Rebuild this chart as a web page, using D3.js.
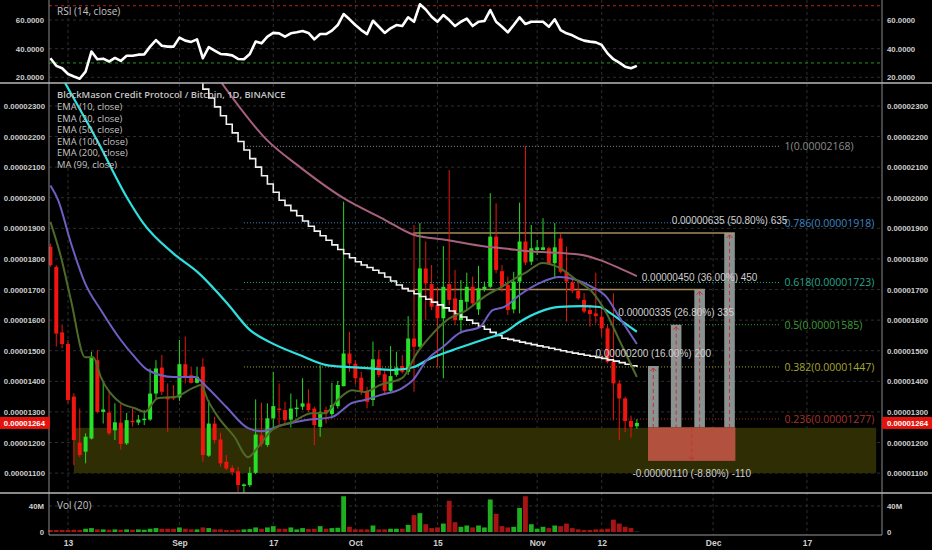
<!DOCTYPE html>
<html>
<head>
<meta charset="utf-8">
<script src="https://cdn.jsdelivr.net/npm/d3@7"></script>
<style>
  body { margin: 0; background: #000; }
  svg { display: block; }
</style>
</head>
<body>
<svg id="chart" width="932" height="550"></svg>
<script>
// daily candles, prices in satoshi (1e-8 BTC), day 0 = 2018-08-10
const opens  = [1840,1774,1560,1522,1350,1200,1170,1213,1469,1300,1298,1240,1265,1197,1271,1265,1273,1275,1360,1445,1350,1352,1347,1456,1420,1395,1448,1157,1262,1210,1137,1117,1106,1058,1061,1101,1224,1192,1279,1311,1306,1275,1309,1317,1328,1311,1251,1306,1293,1319,1384,1491,1458,1412,1369,1339,1472,1423,1369,1421,1450,1431,1540,1513,1769,1718,1649,1606,1718,1671,1600,1660,1709,1635,1701,1709,1873,1760,1715,1635,1726,1857,1791,1829,1829,1835,1786,1867,1758,1723,1696,1666,1633,1622,1611,1573,1464,1393,1344,1271,1253];
const highs  = [1850,1780,1586,1535,1361,1311,1230,1497,1502,1399,1366,1328,1328,1297,1312,1290,1306,1442,1469,1486,1393,1388,1535,1546,1448,1448,1475,1339,1284,1232,1159,1126,1120,1066,1120,1341,1330,1328,1431,1393,1333,1360,1341,1410,1374,1317,1453,1317,1395,1401,1987,1562,1469,1431,1382,1530,1502,1437,1515,1497,1486,1613,1911,1917,1857,1780,1709,1842,2091,1764,1731,1755,1742,1777,1726,2015,1982,1780,1742,1758,1984,2169,1911,1862,1933,1840,1917,1882,1840,1731,1726,1688,1649,1755,1649,1584,1688,1404,1350,1288,1276];
const lows   = [1775,1513,1508,1328,1126,1153,1132,1210,1295,1262,1224,1208,1177,1192,1252,1257,1257,1271,1344,1355,1235,1339,1336,1393,1393,1393,1137,1153,1197,1121,1110,1093,1039,1033,1055,1097,1186,1186,1249,1257,1262,1249,1284,1306,1300,1191,1219,1262,1279,1311,1384,1431,1391,1355,1312,1319,1413,1361,1361,1415,1426,1421,1366,1508,1600,1633,1448,1410,1649,1584,1557,1633,1644,1617,1693,1704,1753,1693,1617,1622,1622,1780,1780,1813,1829,1780,1737,1753,1595,1688,1666,1622,1579,1590,1546,1459,1273,1208,1234,1216,1245];
const closes = [1780,1556,1522,1339,1208,1159,1219,1480,1300,1308,1230,1266,1195,1273,1266,1275,1278,1360,1442,1366,1341,1344,1456,1415,1395,1415,1159,1262,1208,1132,1115,1104,1061,1063,1101,1226,1195,1279,1319,1306,1273,1311,1314,1328,1306,1257,1300,1295,1322,1388,1491,1458,1410,1366,1333,1472,1421,1369,1417,1445,1431,1540,1513,1769,1720,1644,1606,1709,1666,1600,1666,1709,1655,1704,1709,1873,1764,1709,1633,1726,1857,1788,1835,1838,1838,1786,1838,1758,1726,1696,1671,1628,1620,1613,1573,1464,1393,1344,1270,1250,1264];

// volume, millions
const volumes = [3,3,3,3,3.5,3,5,6,4,4,3.5,4,3.5,4,3.5,4,3.5,5,6,5,5,5,7,5,4,4,7,6,4,4,3,3,3.5,4,4.5,7,5,7,9,5,5,7,4,6,4.5,5,9,5,6,6.5,55,8,4,4,4,10,4,4,5,5,5,11,26,29,12,6,7,13,48,15,8,10,7,10,7,50,28,9,7,8,37,55,12,5,8,6,10,9,13,6,4,3,3,4,4,5,19,13,8,6,0.5];

// RSI (14, close)
const rsi = [33.3,28,26.3,22.3,20.5,19,24,38,32.6,33,31,33.5,31.4,35,35,35.8,36,41.4,46,42,41.4,41.4,47.7,45.6,44.7,46.5,33.3,41,38.6,36.3,36,35.3,32.8,32.6,36.3,45,43.7,48.4,51,50.7,48.4,50.7,51.4,52.3,51,46.5,50.2,50.2,52.6,56.5,64.2,60.5,56.5,53,50.2,59.5,55.3,51,54.2,56.5,55.8,61.9,58.8,71,67.4,62.3,58.8,63.5,60,55.8,58.8,61,55.8,58.8,59.3,67,58.8,55.3,51.4,56.5,61.9,57.2,58.8,58.8,58.8,55.3,60.5,53,50.7,49.3,47.2,45.6,44.9,44.4,42.6,36.7,32.6,30.2,27.4,26.3,28];

// moving averages: [day, price]
const ema10 = [[0,1921],[1.8,1806],[3.5,1666],[5.9,1479],[7.3,1479],[8.6,1414],[12,1329],[14.4,1312],[16.1,1300],[18.3,1345],[21.2,1349],[24.6,1381],[25.7,1388],[26.8,1340],[28.6,1283],[31.4,1218],[33.7,1152],[35.4,1185],[37.8,1241],[41.2,1267],[44.6,1296],[46.8,1296],[49,1339],[51.4,1371],[53.6,1365],[56.2,1388],[60,1411],[62.5,1492],[64.7,1545],[67.6,1600],[71,1633],[74.4,1682],[76.6,1705],[78.8,1731],[81.2,1757],[83.9,1787],[86.5,1774],[89.7,1731],[92.4,1692],[94.8,1623],[97,1535],[100,1414]];
const ema20 = [[0,2040],[1.3,1993],[3.5,1852],[5.9,1721],[8.6,1633],[12,1535],[14.4,1479],[16.6,1437],[21,1414],[24.6,1414],[26.7,1381],[30,1316],[33.7,1247],[36,1237],[39.5,1257],[43.4,1273],[48,1283],[51.4,1329],[53.6,1339],[56.2,1355],[60,1378],[61.8,1404],[64.2,1470],[66.9,1512],[69.8,1558],[73.2,1577],[75.4,1633],[77.4,1643],[80,1682],[83.4,1721],[86.8,1741],[89.7,1731],[92.4,1708],[94.8,1676],[97,1610],[100,1522]];
const ema50 = [[2.5,2375],[8,2186],[13.2,1996],[15.8,1918],[20.9,1819],[25.1,1757],[30.1,1656],[34,1568],[37.4,1528],[42.5,1486],[47.1,1453],[50.5,1447],[53.9,1443],[58.4,1437],[62,1447],[64.5,1472],[68.6,1502],[71,1518],[74.4,1540],[77.5,1561],[80,1594],[83.4,1627],[86.8,1643],[90.7,1646],[93.6,1643],[95.5,1623],[97.6,1594],[100,1562]];
const ema100 = [[29.2,2375],[36.9,2189],[42.5,2101],[50.5,1993],[52.7,1970],[57,1928],[61.8,1880],[67.6,1862],[74.4,1840],[77.5,1834],[82.2,1824],[86.8,1820],[90.7,1813],[93.6,1797],[97,1770],[100,1744]];
// MA (99) daily from day 25
const ma99Start = 25;
const ma99 = [2385,2355,2326,2297,2268,2240,2212,2184,2156,2128,2100,2072,2045,2018,1992,1975,1958,1941,1924,1907,1891,1876,1861,1846,1831,1817,1804,1791,1780,1772,1763,1754,1741,1728,1715,1703,1695,1686,1677,1668,1659,1650,1640,1630,1620,1610,1600,1590,1580,1570,1560,1550,1541,1537,1533,1528,1524,1520,1516,1512,1508,1504,1500,1496,1492,1489,1485,1482,1478,1475,1470,1466,1461,1456,1451,1447];

// fibonacci retracement
const fibLevels = [1, 0.786, 0.618, 0.5, 0.382, 0.236];
const fibPrices = [2168, 1918, 1723, 1585, 1447, 1277];
const fibDays = [33, 124.5];

// support zone
const zoneDays = [4, 140.8];
const zonePrices = [1100, 1248];

// long position targets
const entryPrice = 1250;
const targetDiffs = [200, 335, 450, 635];
const targetDays = [102.8, 106.7, 110.7, 115.8];
const stopDiff = 110;
const stopDays = [101.9, 116.8];
const lastPrice = 1264;

const priceTicks = [1100,1200,1300,1400,1500,1600,1700,1800,1900,2000,2100,2200,2300];
const rsiTicks = [20, 40, 60];
const volTicks = [0, 40];
const dateTicks = ["2018-08-13","2018-09-01","2018-09-17","2018-10-01","2018-10-15","2018-11-01","2018-11-12","2018-12-01","2018-12-17"];

const svg = d3.select("#chart");
const L = 49, R = 882;
const DAY = 864e5;
const day0 = Date.UTC(2018, 7, 10);

const x = d3.scaleUtc()
  .domain([new Date(day0 - 0.24 * DAY), new Date(day0 + 141.8 * DAY)])
  .range([L, R]);
const dx = d => x(new Date(day0 + d * DAY));
const yR = d3.scaleLinear().domain([16, 74]).range([83, 0]);
const yP = d3.scaleLinear().domain([1035, 2375]).range([493, 83]);
const yV = d3.scaleLinear().domain([0, 60]).range([532, 493]);
const fmtP = p => (p / 1e8).toFixed(8);

svg.append("rect").attr("width", 932).attr("height", 550).attr("fill", "#000");

const defs = svg.append("defs");
defs.append("clipPath").attr("id", "clipP").append("rect")
  .attr("x", L).attr("y", 83).attr("width", R - L).attr("height", 410);
defs.append("clipPath").attr("id", "clipR").append("rect")
  .attr("x", L).attr("y", 0).attr("width", R - L).attr("height", 83);

// grid
const grid = svg.append("g").attr("stroke", "#2e2e2e").attr("stroke-dasharray", "3,3");
const dates = dateTicks.map(s => new Date(s + "T00:00:00Z"));
grid.selectAll(".gv").data(dates).enter().append("line")
  .attr("x1", d => x(d)).attr("x2", d => x(d)).attr("y1", 0).attr("y2", 535);
grid.selectAll(".gp").data(priceTicks).enter().append("line")
  .attr("x1", L).attr("x2", R).attr("y1", d => yP(d)).attr("y2", d => yP(d));
grid.selectAll(".gr").data(rsiTicks).enter().append("line")
  .attr("x1", L).attr("x2", R).attr("y1", d => yR(d)).attr("y2", d => yR(d));
grid.append("line").attr("x1", L).attr("x2", R).attr("y1", yV(40)).attr("y2", yV(40));

// ---- RSI pane
const rsiG = svg.append("g").attr("clip-path", "url(#clipR)");
rsiG.append("line").attr("x1", L).attr("x2", R).attr("y1", yR(70)).attr("y2", yR(70))
  .attr("stroke", "#b22222").attr("stroke-dasharray", "3,3");
rsiG.append("line").attr("x1", L).attr("x2", R).attr("y1", yR(30)).attr("y2", yR(30))
  .attr("stroke", "#1e9a1e").attr("stroke-dasharray", "3,3");
rsiG.append("path").datum(rsi)
  .attr("fill", "none").attr("stroke", "#fff").attr("stroke-width", 2.6)
  .attr("stroke-linejoin", "round")
  .attr("d", d3.line().x((d, i) => dx(i)).y(d => yR(d)));

// ---- price pane
const pG = svg.append("g").attr("clip-path", "url(#clipP)");

pG.append("rect")
  .attr("x", dx(zoneDays[0])).attr("width", dx(zoneDays[1]) - dx(zoneDays[0]))
  .attr("y", yP(zonePrices[1])).attr("height", yP(zonePrices[0]) - yP(zonePrices[1]))
  .attr("fill", "#2f2d04");

// fib lines
const fibColors = ["#8a8a8a", "#3f86c0", "#2aa58c", "#3f9e3a", "#a6a630", "#a8322b"];
fibPrices.forEach((p, i) => {
  pG.append("line").attr("x1", dx(fibDays[0])).attr("x2", dx(fibDays[1]))
    .attr("y1", yP(p)).attr("y2", yP(p))
    .attr("stroke", fibColors[i]).attr("stroke-dasharray", "1,2").attr("stroke-width", 1);
});

// target lines from the old highs
pG.append("line").attr("x1", dx(61.8)).attr("x2", dx(targetDays[3]) + 5.3)
  .attr("y1", yP(entryPrice + targetDiffs[3])).attr("y2", yP(entryPrice + targetDiffs[3]))
  .attr("stroke", "#a88a5c").attr("stroke-width", 1.5);
pG.append("line").attr("x1", dx(61.8)).attr("x2", dx(targetDays[2]) + 5.3)
  .attr("y1", yP(entryPrice + targetDiffs[2])).attr("y2", yP(entryPrice + targetDiffs[2]))
  .attr("stroke", "#a88a5c").attr("stroke-width", 1.5);

// stop box
const sx0 = dx(stopDays[0]), sx1 = dx(stopDays[1]);
pG.append("rect").attr("x", sx0).attr("width", sx1 - sx0)
  .attr("y", yP(entryPrice)).attr("height", yP(entryPrice - stopDiff) - yP(entryPrice))
  .attr("fill", "rgba(200,88,72,0.86)");
const smid = (sx0 + sx1) / 2;
pG.append("line").attr("x1", smid).attr("x2", smid)
  .attr("y1", yP(entryPrice)).attr("y2", yP(entryPrice - stopDiff))
  .attr("stroke", "#c83030").attr("stroke-dasharray", "4,3");
pG.append("path")
  .attr("d", `M${smid - 3},${yP(entryPrice - stopDiff) - 4}L${smid},${yP(entryPrice - stopDiff) - 1}L${smid + 3},${yP(entryPrice - stopDiff) - 4}`)
  .attr("fill", "none").attr("stroke", "#c83030");

// target bars
targetDiffs.forEach((t, i) => {
  const cx = dx(targetDays[i]);
  const yt = yP(entryPrice + t), yb = yP(entryPrice);
  pG.append("rect").attr("x", cx - 5.3).attr("width", 10.6)
    .attr("y", yt).attr("height", yb - yt).attr("fill", "rgba(150,158,158,0.92)");
  pG.append("line").attr("x1", cx).attr("x2", cx).attr("y1", yt + 2).attr("y2", yb)
    .attr("stroke", "#c83030").attr("stroke-dasharray", "4,3");
  pG.append("path").attr("d", `M${cx - 3},${yt + 5}L${cx},${yt + 2}L${cx + 3},${yt + 5}`)
    .attr("fill", "none").attr("stroke", "#c83030");
});

// candles
const candles = d3.range(opens.length).map(i => ({
  d: i, o: opens[i], h: highs[i], l: lows[i], c: closes[i], up: closes[i] >= opens[i]
}));
const cg = pG.selectAll(".candle").data(candles).enter().append("g");
cg.append("line")
  .attr("x1", d => dx(d.d)).attr("x2", d => dx(d.d))
  .attr("y1", d => yP(d.h)).attr("y2", d => yP(d.l))
  .attr("stroke", d => d.up ? "#29d629" : "#e8150f").attr("stroke-width", 1);
cg.append("rect")
  .attr("x", d => dx(d.d) - 2).attr("width", 4)
  .attr("y", d => yP(Math.max(d.o, d.c)))
  .attr("height", d => Math.max(1.5, Math.abs(yP(d.o) - yP(d.c))))
  .attr("fill", d => d.up ? "#29e029" : "#f0150f");

// moving averages
const ln = d3.line().x(d => dx(d[0])).y(d => yP(d[1])).curve(d3.curveMonotoneX);
pG.append("path").datum(ema100).attr("d", ln)
  .attr("fill", "none").attr("stroke", "#a8607e").attr("stroke-width", 2);
pG.append("path").datum(ma99.map((v, i) => [ma99Start + i, v]))
  .attr("d", d3.line().x(d => dx(d[0])).y(d => yP(d[1])).curve(d3.curveStepAfter))
  .attr("fill", "none").attr("stroke", "#f2f2f2").attr("stroke-width", 1.6);
pG.append("path").datum(ema50).attr("d", ln)
  .attr("fill", "none").attr("stroke", "#2fe0e0").attr("stroke-width", 2.2);
pG.append("path").datum(ema20).attr("d", ln)
  .attr("fill", "none").attr("stroke", "#6f5fc2").attr("stroke-width", 2);
pG.append("path").datum(ema10).attr("d", ln)
  .attr("fill", "none").attr("stroke", "#4e6a2a").attr("stroke-width", 2);

// fib labels
const fibText = svg.append("g").attr("font-family", "Open Sans, sans-serif").attr("font-size", 10.5);
fibPrices.forEach((p, i) => {
  fibText.append("text").attr("x", dx(fibDays[1]) + 4).attr("y", yP(p) + 4)
    .attr("fill", fibColors[i] === "#8a8a8a" ? "#8c8c8c" : fibColors[i])
    .text(`${fibLevels[i]}(${fmtP(p)})`);
});

// position labels
const posText = svg.append("g").attr("font-family", "Liberation Sans, Arial, sans-serif")
  .attr("font-size", 10).attr("fill", "#cfcfcf").attr("text-anchor", "middle");
targetDiffs.forEach((t, i) => {
  posText.append("text").attr("x", dx(targetDays[i])).attr("y", yP(entryPrice + t) - 9)
    .text(`${fmtP(t)} (${(t / entryPrice * 100).toFixed(2)}%) ${t}`);
});
posText.append("text").attr("x", smid).attr("y", yP(entryPrice - stopDiff) + 16)
  .text(`-${fmtP(stopDiff)} (-${(stopDiff / entryPrice * 100).toFixed(2)}%) -${stopDiff}`);

// ---- volume pane
svg.append("g").selectAll("rect").data(volumes).enter().append("rect")
  .attr("x", (d, i) => dx(i) - 2.4).attr("width", 4.8)
  .attr("y", d => yV(d)).attr("height", d => yV(0) - yV(d))
  .attr("fill", (d, i) => closes[i] >= opens[i] ? "#1fae1f" : "#a81414");

// ---- frame lines
const frame = svg.append("g");
frame.append("line").attr("x1", L).attr("x2", L).attr("y1", 0).attr("y2", 535).attr("stroke", "#8a8a8a");
frame.append("line").attr("x1", R).attr("x2", R).attr("y1", 0).attr("y2", 535).attr("stroke", "#8a8a8a");
frame.append("line").attr("x1", 0).attr("x2", 932).attr("y1", 83).attr("y2", 83).attr("stroke", "#b8b8b8").attr("stroke-width", 1.5);
frame.append("line").attr("x1", 0).attr("x2", 932).attr("y1", 493).attr("y2", 493).attr("stroke", "#b8b8b8").attr("stroke-width", 1.5);
frame.append("line").attr("x1", L).attr("x2", R).attr("y1", 535).attr("y2", 535).attr("stroke", "#9a9a9a");

// ---- axes
function styleAxis(g) {
  g.select(".domain").remove();
  g.selectAll("text").attr("fill", "#cfcfcf")
    .attr("font-family", "Liberation Sans, Arial, sans-serif")
    .attr("font-size", 7.8).attr("font-weight", "bold");
}
svg.append("g").attr("transform", `translate(${L},0)`)
  .call(d3.axisLeft(yP).tickValues(priceTicks).tickFormat(fmtP).tickSize(0).tickPadding(4)).call(styleAxis);
svg.append("g").attr("transform", `translate(${R},0)`)
  .call(d3.axisRight(yP).tickValues(priceTicks).tickFormat(fmtP).tickSize(0).tickPadding(5)).call(styleAxis);
svg.append("g").attr("transform", `translate(${L},0)`)
  .call(d3.axisLeft(yR).tickValues(rsiTicks).tickFormat(d => d.toFixed(4)).tickSize(0).tickPadding(5)).call(styleAxis);
svg.append("g").attr("transform", `translate(${R},0)`)
  .call(d3.axisRight(yR).tickValues(rsiTicks).tickFormat(d => d.toFixed(4)).tickSize(0).tickPadding(5)).call(styleAxis);
svg.append("g").attr("transform", `translate(${L},0)`)
  .call(d3.axisLeft(yV).tickValues(volTicks).tickFormat(d => d ? d + "M" : "0").tickSize(0).tickPadding(5)).call(styleAxis);
svg.append("g").attr("transform", `translate(${R},0)`)
  .call(d3.axisRight(yV).tickValues(volTicks).tickFormat(d => d ? d + "M" : "0").tickSize(0).tickPadding(5)).call(styleAxis);
svg.append("g").attr("transform", "translate(0,535)")
  .call(d3.axisBottom(x).tickValues(dates)
    .tickFormat(d => d.getUTCDate() === 1 ? d3.utcFormat("%b")(d) : d3.utcFormat("%-d")(d))
    .tickSize(0).tickPadding(5))
  .call(styleAxis)
  .selectAll("text").attr("font-size", 8.5);

// last price tags
const lp = yP(lastPrice);
[[0, L - 4, "end"], [R, R + 5, "start"]].forEach(([rx, tx, anchor]) => {
  svg.append("rect").attr("x", rx).attr("y", lp - 6).attr("width", 50).attr("height", 12).attr("fill", "#e3140e");
  svg.append("text").attr("x", tx).attr("y", lp + 3).attr("text-anchor", anchor)
    .attr("fill", "#fff").attr("font-family", "Liberation Sans, Arial, sans-serif")
    .attr("font-size", 7.8).attr("font-weight", "bold").text(fmtP(lastPrice));
});

// ---- legends
const lg = svg.append("g").attr("font-family", "Open Sans, sans-serif").attr("fill", "#c4c4c4").attr("font-size", 9.4);
lg.append("text").attr("x", 57).attr("y", 15).attr("font-size", 10).text("RSI (14, close)");
lg.append("text").attr("x", 57).attr("y", 98).attr("font-weight", 600)
  .text("BlockMason Credit Protocol / Bitcoin, 1D, BINANCE");
["EMA (10, close)", "EMA (20, close)", "EMA (50, close)", "EMA (100, close)", "EMA (200, close)", "MA (99, close)"]
  .forEach((t, i) => lg.append("text").attr("x", 57).attr("y", 110 + i * 11.6).text(t));
lg.append("text").attr("x", 57).attr("y", 509).attr("font-size", 10).text("Vol (20)");
</script>
</body>
</html>
